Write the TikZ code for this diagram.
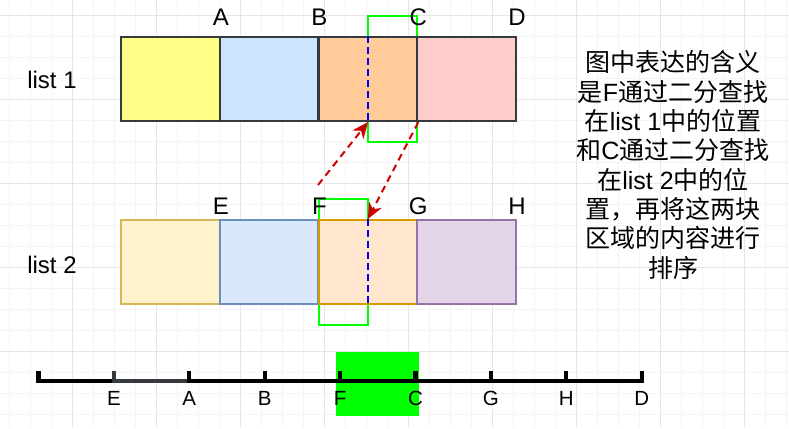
\documentclass[tikz,border=0pt]{standalone}
\usepackage{fontspec}
\setmainfont{Liberation Sans}
\newfontfamily\cjk{Noto Sans CJK SC}
\usetikzlibrary{arrows.meta}
\definecolor{gridminor}{HTML}{F4F4F4}
\definecolor{gridmajor}{HTML}{E6E6E6}
\definecolor{cellline}{HTML}{36393D}
\definecolor{yellowcell}{HTML}{FFFF88}
\definecolor{bluecell}{HTML}{CCE5FF}
\definecolor{orangecell}{HTML}{FFCC99}
\definecolor{pinkcell}{HTML}{FFCCCC}
\definecolor{sandfill}{HTML}{FFF2CC}
\definecolor{sandline}{HTML}{D6B656}
\definecolor{skyfill}{HTML}{DAE8FC}
\definecolor{skyline}{HTML}{6C8EBF}
\definecolor{peachfill}{HTML}{FFE6CC}
\definecolor{peachline}{HTML}{D79B00}
\definecolor{lilacfill}{HTML}{E1D5E7}
\definecolor{lilacline}{HTML}{9673A6}
\definecolor{linkred}{HTML}{CC0000}
\definecolor{markgreen}{HTML}{00FF00}
\tikzset{
  cellbox/.style={draw, line width=2pt, minimum width=98.75pt, minimum height=84pt, inner sep=0pt},
  letter/.style={font=\fontsize{24}{28}\selectfont, inner sep=0pt},
  smallletter/.style={font=\fontsize{20.5}{24}\selectfont, inner sep=0pt},
  markbox/.style={draw=markgreen, line width=2pt},
  midline/.style={draw=blue, line width=2pt, dash pattern=on 7pt off 4pt},
  linkarrow/.style={draw=linkred, line width=2pt, dash pattern=on 7pt off 5pt,
    -{Stealth[length=16pt,width=14pt,inset=5pt]}},
  axisline/.style={line width=4.2pt, line cap=rect}
}
\begin{document}
\begin{tikzpicture}[x=1pt,y=-1pt]
\useasboundingbox (0,0) rectangle (789,428);
% background grid
\foreach \k in {0,...,37} \draw[gridminor, line width=0.8pt] (9.7+21*\k,0) -- (9.7+21*\k,428);
\foreach \k in {0,...,20} \draw[gridminor, line width=0.8pt] (0,15+21*\k) -- (789,15+21*\k);
\foreach \k in {0,...,8} \draw[gridmajor, line width=0.8pt] (72.7+84*\k,0) -- (72.7+84*\k,428);
\foreach \k in {0,...,4} \draw[gridmajor, line width=0.8pt] (0,15+84*\k) -- (789,15+84*\k);

% green marks behind the cells
\fill[markgreen] (336,352) rectangle (419,416);
\coordinate (m1) at (367.9,16);
\coordinate (m2) at (417.25,142);
\coordinate (m3) at (318.5,199);
\coordinate (m4) at (367.9,325);
\draw[markbox] (m1) rectangle (m2);
\draw[markbox] (m3) rectangle (m4);

% list 1
\node[letter] (l1) at (52,80) {list 1};
\node[cellbox, draw=cellline, fill=yellowcell] (a1) at (170.4,79.2) {};
\node[cellbox, draw=cellline, fill=bluecell] (a2) at (269.1,79.2) {};
\node[cellbox, draw=cellline, fill=orangecell] (a3) at (367.9,79.2) {};
\node[cellbox, draw=cellline, fill=pinkcell] (a4) at (466.6,79.2) {};
\node[letter] (la) at ([yshift=18.5pt]a1.north east) {A};
\node[letter] (lb) at ([yshift=18.5pt]a2.north east) {B};
\node[letter] (lc) at ([yshift=18.5pt]a3.north east) {C};
\node[letter] (ld) at ([yshift=18.5pt]a4.north east) {D};

% list 2
\node[letter] (l2) at (52,265) {list 2};
\node[cellbox, draw=sandline, fill=sandfill] (b1) at (170.4,262) {};
\node[cellbox, draw=skyline, fill=skyfill] (b2) at (269.1,262) {};
\node[cellbox, draw=peachline, fill=peachfill] (b3) at (367.9,262) {};
\node[cellbox, draw=lilacline, fill=lilacfill] (b4) at (466.6,262) {};
\node[letter] (le) at ([yshift=12.5pt]b1.north east) {E};
\node[letter] (lf) at ([yshift=12.5pt]b2.north east) {F};
\node[letter] (lg) at ([yshift=12.5pt]b3.north east) {G};
\node[letter] (lh) at ([yshift=12.5pt]b4.north east) {H};

% split lines and links
\draw[midline] (a3.north) -- (a3.south);
\draw[midline] (b3.north) -- (b3.south);
\coordinate (fstart) at (318,185);
\draw[linkarrow] (fstart) -- (a3.south);
\draw[linkarrow] (a3.south east) -- (b3.north);

% merged axis
\foreach \i in {0,...,8} \coordinate (t\i) at (38.5+75.4*\i,381);
\draw[axisline] (t0) -- (t1);
\draw[axisline, draw=cellline] (t1) -- (t2);
\draw[axisline] (t2) -- (t8);
\foreach \i in {0,2,3,4,5,6,7,8} \draw[axisline] (t\i) -- ++(0,-8);
\draw[axisline, draw=cellline] (t1) -- ++(0,-8);
\foreach \i/\t in {1/E,2/A,3/B,4/F,5/C,6/G,7/H,8/D}
  \node[smallletter] (x\i) at ([yshift=-17.5pt]t\i) {\t};

% explanation
\node[align=center, inner sep=0pt, font=\fontsize{25}{29.3}\selectfont] (note) at (673,165)
{{\cjk 图中表达的含义}\\
{\cjk 是}F{\cjk 通过二分查找}\\
{\cjk 在}list 1{\cjk 中的位置}\\
{\cjk 和}C{\cjk 通过二分查找}\\
{\cjk 在}list 2{\cjk 中的位}\\
{\cjk 置，再将这两块}\\
{\cjk 区域的内容进行}\\
{\cjk 排序}};
\end{tikzpicture}
\end{document}
